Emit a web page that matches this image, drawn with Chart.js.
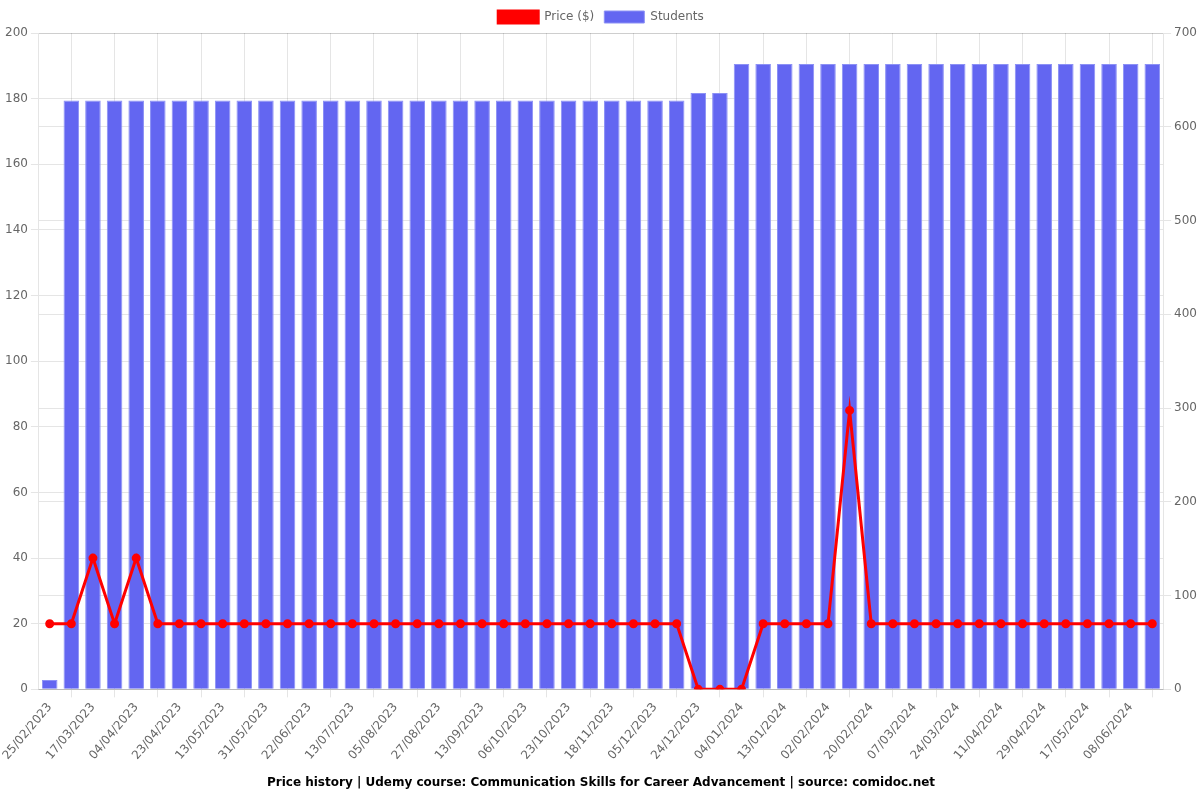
<!DOCTYPE html>
<html>
<head>
<meta charset="utf-8">
<title>Price history</title>
<script src="https://cdn.jsdelivr.net/npm/chart.js@4.4.0/dist/chart.umd.min.js"></script>
<style>
  html, body { margin: 0; padding: 0; background: #fff; }
  #wrap { width: 1200px; height: 800px; position: relative; }
</style>
</head>
<body>
<div id="wrap"><canvas id="priceChart"></canvas></div>
<script>
// Dates of each snapshot (odd ones are hidden by autoskip, estimated)
const dates = [
  '25/02/2023', '06/03/2023', '17/03/2023', '26/03/2023', '04/04/2023', '13/04/2023',
  '23/04/2023', '03/05/2023', '13/05/2023', '22/05/2023', '31/05/2023', '11/06/2023',
  '22/06/2023', '02/07/2023', '13/07/2023', '24/07/2023', '05/08/2023', '16/08/2023',
  '27/08/2023', '05/09/2023', '13/09/2023', '24/09/2023', '06/10/2023', '14/10/2023',
  '23/10/2023', '01/11/2023', '18/11/2023', '27/11/2023', '05/12/2023', '14/12/2023',
  '24/12/2023', '29/12/2023', '04/01/2024', '08/01/2024', '13/01/2024', '23/01/2024',
  '02/02/2024', '11/02/2024', '20/02/2024', '28/02/2024', '07/03/2024', '15/03/2024',
  '24/03/2024', '02/04/2024', '11/04/2024', '20/04/2024', '29/04/2024', '08/05/2024',
  '17/05/2024', '27/05/2024', '08/06/2024', '18/06/2024'
];

const price = [
  20, 20, 40, 20, 40, 20, 20, 20, 20, 20, 20, 20, 20, 20, 20, 20, 20, 20,
  20, 20, 20, 20, 20, 20, 20, 20, 20, 20, 20, 20, 0, 0, 0, 20, 20, 20,
  20, 85, 20, 20, 20, 20, 20, 20, 20, 20, 20, 20, 20, 20, 20, 20
];

const students = [
  10, 628, 628, 628, 628, 628, 628, 628, 628, 628, 628, 628, 628, 628, 628, 628, 628, 628,
  628, 628, 628, 628, 628, 628, 628, 628, 628, 628, 628, 628, 636, 636, 667, 667, 667, 667,
  667, 667, 667, 667, 667, 667, 667, 667, 667, 667, 667, 667, 667, 667, 667, 667
];

Chart.defaults.font.family = "'DejaVu Sans', sans-serif";
Chart.defaults.font.size = 12;
Chart.defaults.color = '#666';

const ctx = document.getElementById('priceChart').getContext('2d');

new Chart(ctx, {
  type: 'bar',
  data: {
    labels: dates,
    datasets: [
      {
        type: 'line',
        label: 'Price ($)',
        data: price,
        yAxisID: 'y',
        borderColor: '#ff0000',
        backgroundColor: '#ff0000',
        borderWidth: 3,
        pointRadius: 3,
        pointBackgroundColor: '#ff0000',
        tension: 0
      },
      {
        type: 'bar',
        label: 'Students',
        data: students,
        yAxisID: 'y1',
        backgroundColor: 'rgb(99, 102, 241)',
        borderColor: 'rgba(140, 145, 245, 1)',
        borderWidth: 1
      }
    ]
  },
  options: {
    responsive: true,
    maintainAspectRatio: false,
    animation: false,
    layout: { padding: { left: 2, top: 1 } },
    plugins: {
      legend: {
        position: 'top'
      },
      title: {
        display: true,
        position: 'bottom',
        text: 'Price history | Udemy course: Communication Skills for Career Advancement | source: comidoc.net',
        color: '#000',
        font: { size: 12, weight: 'bold' }
      }
    },
    scales: {
      x: {
        ticks: { maxRotation: 50 }
      },
      y: {
        position: 'left',
        min: 0,
        max: 200,
        ticks: { stepSize: 20 }
      },
      y1: {
        position: 'right',
        min: 0,
        max: 700,
        ticks: { stepSize: 100 }
      }
    }
  }
});
</script>
</body>
</html>
